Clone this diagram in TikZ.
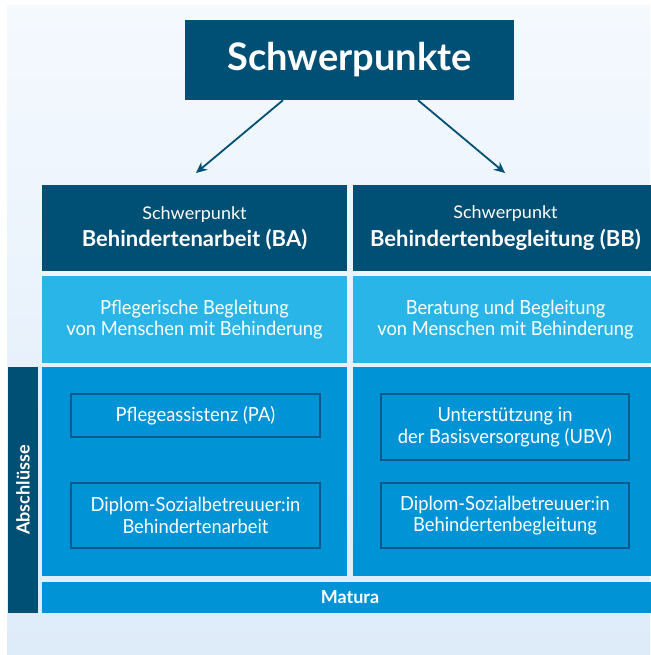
\documentclass[tikz,border=0pt]{standalone}
\usepackage{fontspec}
\setmainfont{Lato}
\newfontfamily\lightf[FakeStretch=0.94]{Lato}
\newfontfamily\smallf[FakeStretch=1.03]{Lato}
\usetikzlibrary{arrows.meta,positioning,calc}
\definecolor{dkblue}{HTML}{004F75}
\definecolor{ltblue}{HTML}{29B5E8}
\definecolor{mdblue}{HTML}{0093D6}
\definecolor{bordblue}{HTML}{0B5A8C}
\definecolor{bgtop}{HTML}{F4F9FE}
\definecolor{bgbot}{HTML}{DEEBF9}
\tikzset{
  box/.style={rectangle, inner sep=0pt, text=white, align=center},
  darkbox/.style={box, fill=dkblue},
  lightbox/.style={box, fill=ltblue},
  midbox/.style={box, fill=mdblue},
  innerbox/.style={box, fill=mdblue, draw=bordblue, line width=1.3pt},
  txt/.style={font=\lightf\fontsize{19.5}{21.5}\selectfont},
  boldtxt/.style={font=\bfseries\fontsize{18}{20}\selectfont},
  arr/.style={draw=dkblue, line width=1.8pt, -{Stealth[length=11pt,width=10pt]}}
}
\begin{document}
\begin{tikzpicture}[x=1pt,y=-1pt]
\useasboundingbox (0,0) rectangle (650,655);
\fill[white] (0,0) rectangle (650,655);
\shade[top color=bgtop, bottom color=bgbot] (7,6) rectangle (650,655);
% title
\node[darkbox, minimum width=329pt, minimum height=80pt, font=\bfseries\fontsize{38}{40}\selectfont] (top) at (349.5,60) {Schwerpunkte};
\coordinate (aL) at (196,173);
\coordinate (aR) at (505,173);
\draw[arr] ([xshift=-66.5pt]top.south) -- (aL);
\draw[arr] ([xshift=68.5pt]top.south) -- (aR);
% row 1
\node[darkbox, minimum width=305pt, minimum height=86pt] (hBA) at (194.5,228)
  {{\smallf\fontsize{17.5}{20}\selectfont Schwerpunkt}\\[6pt]{\bfseries\fontsize{22}{24}\selectfont Behindertenarbeit (BA)}};
\node[darkbox, minimum width=305pt, minimum height=86pt] (hBB) at (505.5,228)
  {{\smallf\fontsize{17.5}{20}\selectfont Schwerpunkt}\\[6pt]{\bfseries\fontsize{22}{24}\selectfont Behindertenbegleitung (BB)}};
% row 2
\node[lightbox, txt, minimum width=305pt, minimum height=87pt] (dBA) at (194.5,319.5)
  {Pflegerische Begleitung\\von Menschen mit Behinderung};
\node[lightbox, txt, minimum width=305pt, minimum height=87pt] (dBB) at (505.5,319.5)
  {Beratung und Begleitung\\von Menschen mit Behinderung};
% row 3
\node[midbox, minimum width=305pt, minimum height=209pt] (aBA) at (194.5,471.5) {};
\node[midbox, minimum width=305pt, minimum height=209pt] (aBB) at (505.5,471.5) {};
\node[innerbox, txt, minimum width=249pt, minimum height=43pt] (pa) at (195.5,415.5) {Pflegeassistenz (PA)};
\node[innerbox, txt, minimum width=249pt, minimum height=65pt] (dsa) at (195.5,515.5) {Diplom-Sozialbetreuuer:in\\Behindertenarbeit};
\node[innerbox, txt, minimum width=248pt, minimum height=66pt] (ubv) at (505,427) {Unterstützung in\\der Basisversorgung (UBV)};
\node[innerbox, txt, minimum width=248pt, minimum height=65pt] (dsb) at (505,515.5) {Diplom-Sozialbetreuuer:in\\Behindertenbegleitung};
% matura
\node[midbox, boldtxt, minimum width=616pt, minimum height=31pt] (mat) at (350,597.5) {Matura};
% side bar
\node[darkbox, minimum width=30pt, minimum height=246pt] (abs) at (23,490) {};
\node[boldtxt, text=white, rotate=90] (abst) at (abs.center) {Abschlüsse};
\end{tikzpicture}
\end{document}
